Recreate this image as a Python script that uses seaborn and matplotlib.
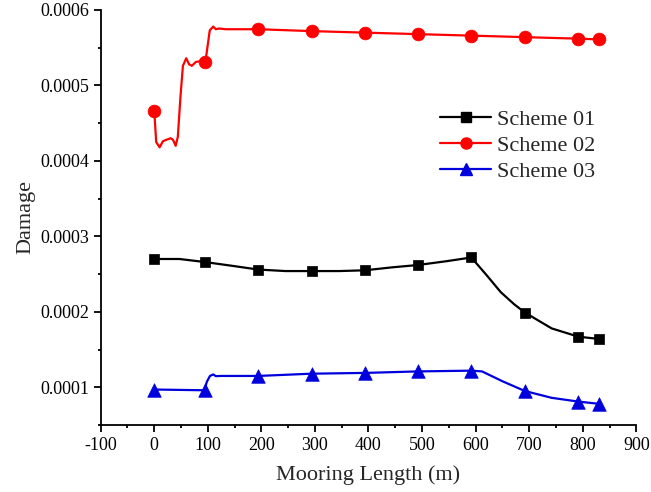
import matplotlib
matplotlib.use("Agg")
import matplotlib.pyplot as plt
import seaborn as sns
import pandas as pd
from matplotlib.lines import Line2D
from matplotlib.ticker import MultipleLocator, FormatStrFormatter

# ---- data ----
series_names = ["Scheme 01", "Scheme 02", "Scheme 03"]
marker_x = [0, 94, 194, 294, 393, 492, 592, 692, 792, 831]
scheme01 = [0.000270, 0.000266, 0.000256, 0.000254, 0.000255, 0.000262, 0.000272, 0.000199, 0.000167, 0.000164]
scheme02 = [0.000466, 0.000531, 0.0005745, 0.000572, 0.000570, 0.000568, 0.000566, 0.000564, 0.000562, 0.000561]
scheme03 = [0.000097, 0.000096, 0.000115, 0.000118, 0.000119, 0.000121, 0.000122, 0.000095, 0.000081, 0.000078]

# traced curve paths (the drawn lines, including points between markers)
curve01_x = [0, 47, 94, 145, 194, 245, 294, 345, 393, 445, 492, 545, 592, 620, 647, 672, 692, 742, 792, 831]
curve01_y = [0.000270, 0.000270, 0.000266, 0.000261, 0.000256, 0.000254, 0.000254, 0.000254, 0.000255, 0.000259,
             0.000262, 0.000267, 0.000272, 0.000249, 0.000226, 0.000210, 0.000199, 0.000178, 0.000167, 0.000164]
curve02_x = [0, 3.6, 10, 16, 22.5, 30.7, 35, 40, 44, 49, 53.5, 59.7, 65, 70, 77.5, 84, 94, 97, 103.6, 110, 115,
             121, 133, 194, 294, 393, 492, 592, 692, 792, 831]
curve02_y = [0.000466, 0.000425, 0.000418, 0.000426, 0.000428, 0.000430, 0.000428, 0.000420, 0.000432, 0.000486,
             0.000526, 0.000536, 0.000528, 0.000526, 0.000531, 0.000532, 0.000531, 0.000539, 0.000573, 0.000578,
             0.0005745, 0.0005755, 0.0005745, 0.0005745, 0.000572, 0.000570, 0.000568, 0.000566, 0.000564,
             0.000562, 0.000561]
curve03_x = [0, 94, 98, 104, 110, 115, 124, 194, 294, 393, 492, 592, 612, 650, 692, 742, 792, 831]
curve03_y = [0.000097, 0.000096, 0.000107, 0.000115, 0.000117, 0.0001147, 0.000115, 0.000115, 0.000118, 0.000119,
             0.000121, 0.000122, 0.000121, 0.000108, 0.000095, 0.000086, 0.000081, 0.000078]

x_ticks = [-100, 0, 100, 200, 300, 400, 500, 600, 700, 800, 900]
y_ticks = [0.0001, 0.0002, 0.0003, 0.0004, 0.0005, 0.0006]

colors = ["#000000", "#FF0000", "#0000DD"]
markers = ["s", "o", "^"]
marker_sizes = [62, 85, 95]

sns.set_theme(style="ticks")
plt.rcParams["font.family"] = ["Liberation Serif", "DejaVu Serif"]
plt.rcParams["axes.unicode_minus"] = False

fig = plt.figure(figsize=(6.51, 4.92), dpi=100)
ax = fig.add_axes([0.1547, 0.1362, 0.8227, 0.8435])

curves = [(curve01_x, curve01_y), (curve02_x, curve02_y), (curve03_x, curve03_y)]
marks = [scheme01, scheme02, scheme03]

for i, name in enumerate(series_names):
    cdf = pd.DataFrame({"x": curves[i][0], "y": curves[i][1]})
    sns.lineplot(data=cdf, x="x", y="y", ax=ax, color=colors[i], linewidth=1.6,
                 sort=False, estimator=None)
    mdf = pd.DataFrame({"x": marker_x, "y": marks[i]})
    sns.scatterplot(data=mdf, x="x", y="y", ax=ax, color=colors[i], marker=markers[i],
                    s=marker_sizes[i], edgecolor=colors[i], linewidth=0.5, zorder=3)

ax.set_xlim(-100, 900)
ax.set_ylim(0.00005, 0.0006)
ax.set_xticks(x_ticks)
ax.set_yticks(y_ticks)
ax.yaxis.set_major_formatter(FormatStrFormatter("%.4f"))
ax.xaxis.set_minor_locator(MultipleLocator(50))
ax.yaxis.set_minor_locator(MultipleLocator(0.00005))

for side in ["top", "right"]:
    ax.spines[side].set_visible(False)
for side in ["left", "bottom"]:
    ax.spines[side].set_linewidth(1.3)
    ax.spines[side].set_color("black")

ax.tick_params(axis="both", which="major", direction="out", length=5, width=1.3,
               labelsize=13, colors="black", pad=3.5)
ax.tick_params(axis="both", which="minor", direction="out", length=2.2, width=1.3, colors="black")

ax.set_xlabel("Mooring Length (m)", fontsize=16, labelpad=8)
ax.set_ylabel("Damage", fontsize=16, labelpad=3.5)

handles = [Line2D([0], [0], color=colors[i], marker=markers[i], linewidth=1.6,
                  markersize=[7, 8, 8.5][i]) for i in range(3)]
leg = fig.legend(handles, series_names, loc="upper left",
                 bbox_to_anchor=(440 / 651, 1 - 109 / 492), frameon=False, fontsize=16,
                 handlelength=2.3, handletextpad=0.25, labelspacing=0.25, borderpad=0, borderaxespad=0)

fig.savefig("out.png", dpi=100)
